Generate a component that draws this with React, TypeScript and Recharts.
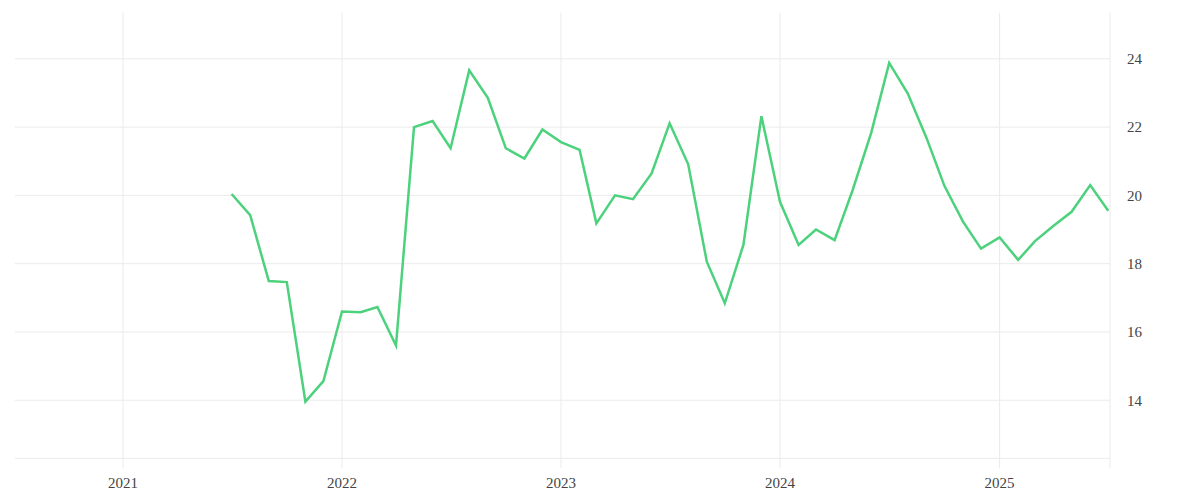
import { CartesianGrid, Line, LineChart, XAxis, YAxis } from "recharts";

const CHART_WIDTH = 1200;
const CHART_HEIGHT = 500;
const LINE_COLOR = "#4cd17c";
const GRID_COLOR = "#ebebeb";
const TEXT_COLOR = "#444";
const FONT = "'Liberation Serif', 'Times New Roman', serif";

// monthly observations, Jul 2021 .. Jul 2025
const months = [
  "2021-07", "2021-08", "2021-09", "2021-10", "2021-11", "2021-12",
  "2022-01", "2022-02", "2022-03", "2022-04", "2022-05", "2022-06",
  "2022-07", "2022-08", "2022-09", "2022-10", "2022-11", "2022-12",
  "2023-01", "2023-02", "2023-03", "2023-04", "2023-05", "2023-06",
  "2023-07", "2023-08", "2023-09", "2023-10", "2023-11", "2023-12",
  "2024-01", "2024-02", "2024-03", "2024-04", "2024-05", "2024-06",
  "2024-07", "2024-08", "2024-09", "2024-10", "2024-11", "2024-12",
  "2025-01", "2025-02", "2025-03", "2025-04", "2025-05", "2025-06",
  "2025-07",
];

const values = [
  20.04, 19.42, 17.49, 17.46, 13.96, 14.56,
  16.6, 16.58, 16.73, 15.6, 22.0, 22.18,
  21.38, 23.66, 22.86, 21.38, 21.08, 21.93,
  21.56, 21.33, 19.18, 20.0, 19.89, 20.64,
  22.11, 20.91, 18.06, 16.84, 18.55, 22.32,
  19.81, 18.55, 19.0, 18.69, 20.15, 21.83,
  23.88, 22.98, 21.69, 20.28, 19.23, 18.44,
  18.77, 18.11, 18.66, 19.11, 19.52, 20.3,
  19.55,
];

const yearTicks = [2021, 2022, 2023, 2024, 2025];
const yTicks = [14, 16, 18, 20, 22, 24];

const X_START = Date.UTC(2020, 6, 5);
const X_END = Date.UTC(2025, 6, 4);

const toTime = (month: string): number => {
  const [y, m] = month.split("-").map(Number);
  return Date.UTC(y, m - 1, 1);
};

const data = months.map((month, i) => ({ t: toTime(month), value: values[i] }));
const xTicks = [...yearTicks.map((y) => Date.UTC(y, 0, 1)), X_END];

const tickStyle = { fontFamily: FONT, fontSize: 15, fill: TEXT_COLOR };

export default function App(): React.ReactElement {
  return (
    <div style={{ position: "absolute", left: 0, top: 0, background: "#fff" }}>
      <LineChart
        width={CHART_WIDTH}
        height={CHART_HEIGHT}
        data={data}
        margin={{ top: 12.7, right: 30, bottom: 11.7, left: 15 }}
      >
        <CartesianGrid
          stroke={GRID_COLOR}
          strokeWidth={1}
          horizontalValues={yTicks}
          verticalValues={xTicks}
        />
        <XAxis
          dataKey="t"
          type="number"
          domain={[X_START, X_END]}
          ticks={xTicks}
          allowDataOverflow
          height={30}
          tickSize={10}
          tickMargin={9}
          axisLine={{ stroke: GRID_COLOR }}
          tickLine={{ stroke: GRID_COLOR }}
          tick={tickStyle}
          tickFormatter={(v: number) => (v === X_END ? "" : String(new Date(v).getUTCFullYear()))}
          interval={0}
        />
        <YAxis
          orientation="right"
          domain={[12.3, 25.35]}
          ticks={yTicks}
          allowDataOverflow
          width={60}
          axisLine={false}
          tickLine={false}
          tickSize={0}
          tickMargin={17}
          tick={{ ...tickStyle, textAnchor: "start" }}
          interval={0}
        />
        <Line
          type="linear"
          dataKey="value"
          stroke={LINE_COLOR}
          strokeWidth={2.5}
          dot={false}
          activeDot={false}
          isAnimationActive={false}
        />
      </LineChart>
    </div>
  );
}
